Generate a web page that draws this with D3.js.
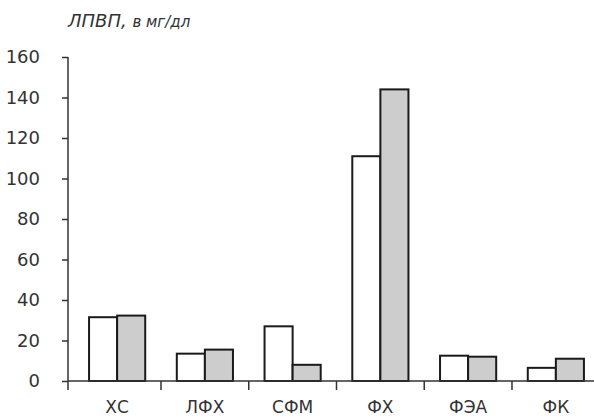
<!DOCTYPE html>
<html>
<head>
<meta charset="utf-8">
<script src="https://cdn.jsdelivr.net/npm/d3@7"></script>
<style>
  body { margin: 0; background: #fff; }
  svg { display: block; font-family: "DejaVu Sans", sans-serif; }
</style>
</head>
<body>
<script>
// ЛПВП, мг/дл — два ряда по шести фракциям
const categories = ["ХС", "ЛФХ", "СФМ", "ФХ", "ФЭА", "ФК"];
const seriesA = [31.5, 13.5, 27, 111, 12.5, 6.5];   // белые
const seriesB = [32.3, 15.5, 8, 144, 12, 11];      // серые
const yTicks = [0, 20, 40, 60, 80, 100, 120, 140, 160];

const width = 594, height = 418;
const margin = {top: 57, right: 0, bottom: 37, left: 68};

const svg = d3.select("body").append("svg")
    .attr("width", width)
    .attr("height", height);

const x = d3.scaleBand()
    .domain(categories)
    .range([margin.left, 605])
    .paddingInner(0.36)
    .paddingOuter(0.24);

const y = d3.scaleLinear()
    .domain([0, 160])
    .range([height - margin.bottom, margin.top]);

const half = x.bandwidth() / 2;
const gap = x.step() - x.bandwidth();

// бары
const bars = [
  {values: seriesA, fill: "#fff", off: 0},
  {values: seriesB, fill: "#cdcdcd", off: half}
];
bars.forEach(s => {
  svg.append("g")
      .attr("fill", s.fill)
      .attr("stroke", "#1a1a1a")
      .attr("stroke-width", 2)
    .selectAll("rect")
    .data(categories)
    .join("rect")
      .attr("x", (d) => x(d) + s.off)
      .attr("width", half)
      .attr("y", (d, i) => y(s.values[i]))
      .attr("height", (d, i) => y(0) - y(s.values[i]));
});

// ось Y
svg.append("g")
    .attr("transform", `translate(${margin.left},0)`)
    .call(d3.axisLeft(y).tickValues(yTicks).tickSize(6).tickPadding(22))
    .call(g => g.select(".domain").remove())
    .call(g => g.selectAll(".tick line").attr("stroke", "#333").attr("stroke-width", 1.5))
    .call(g => g.selectAll(".tick text")
        .attr("font-size", 18)
        .attr("fill", "#333")
        .attr("font-family", "DejaVu Sans"));

svg.append("line")
    .attr("x1", margin.left).attr("x2", margin.left)
    .attr("y1", y(160)).attr("y2", y(0) + 9)
    .attr("stroke", "#333").attr("stroke-width", 1.5);

// ось X
svg.append("line")
    .attr("x1", margin.left).attr("x2", width)
    .attr("y1", y(0)).attr("y2", y(0))
    .attr("stroke", "#333").attr("stroke-width", 1.5);

svg.append("g")
    .attr("stroke", "#333").attr("stroke-width", 1.5)
  .selectAll("line")
  .data(categories.slice(1))
  .join("line")
    .attr("x1", d => x(d) - gap / 2)
    .attr("x2", d => x(d) - gap / 2)
    .attr("y1", y(0))
    .attr("y2", y(0) + 9);

svg.append("g")
    .attr("font-size", 17)
    .attr("fill", "#333")
    .attr("text-anchor", "middle")
  .selectAll("text")
  .data(categories)
  .join("text")
    .attr("x", d => x(d) + half)
    .attr("y", height - 5)
    .text(d => d);

// подпись оси
const label = svg.append("text")
    .attr("x", margin.left)
    .attr("y", 27)
    .attr("fill", "#333")
    .attr("font-style", "italic");
label.append("tspan").attr("font-size", 18).text("ЛПВП, ");
label.append("tspan").attr("font-size", 15).text("в мг/дл");
</script>
</body>
</html>
